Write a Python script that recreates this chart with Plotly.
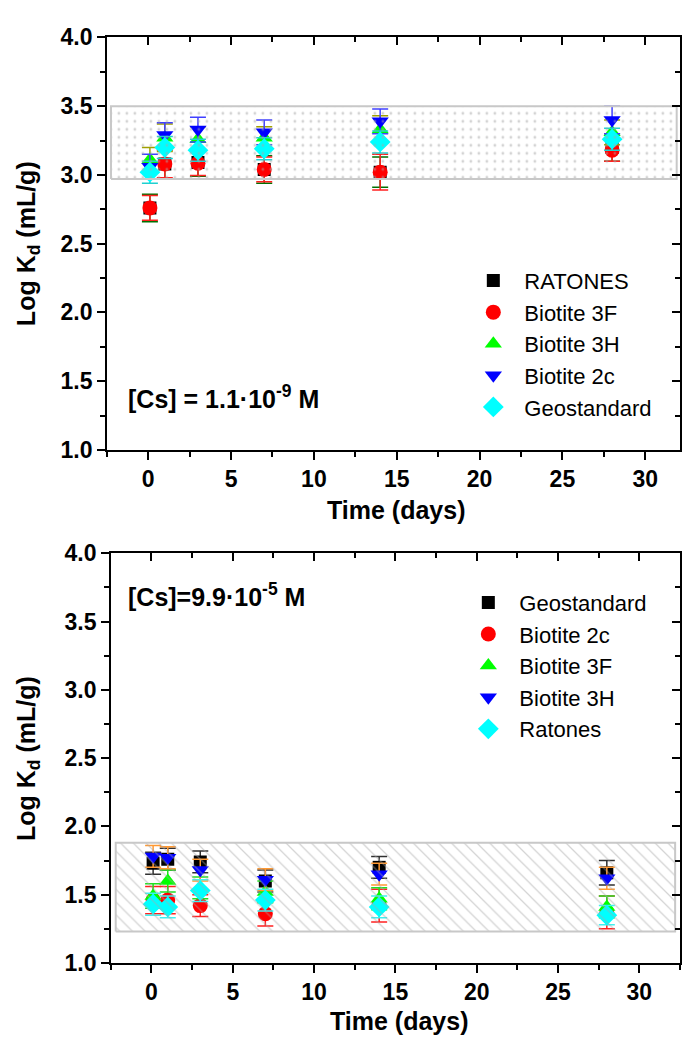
import plotly.graph_objects as go

W, H = 682, 1052

# ---------------- data: top panel ([Cs] = 1.1e-9 M) ----------------
time_top = [0.1, 1, 3, 7, 14, 28]
top_names = ["RATONES", "Biotite 3F", "Biotite 3H", "Biotite 2c", "Geostandard"]
top_ratones = [2.76, 3.08, 3.09, 3.04, 3.02, 3.20]
top_bio3f = [2.76, 3.08, 3.085, 3.04, 3.02, 3.18]
top_bio3h = [3.11, 3.27, 3.26, 3.27, 3.33, 3.31]
top_bio2c = [3.06, 3.29, 3.33, 3.31, 3.39, 3.40]
top_geo = [3.02, 3.20, 3.18, 3.19, 3.24, 3.26]
top_err_ratones = [0.10, 0.11, 0.10, 0.10, 0.11, 0.10]
top_err_bio3f = [0.09, 0.10, 0.09, 0.09, 0.13, 0.08]
top_err_bio3h = [0.09, 0.10, 0.09, 0.08, 0.10, 0.09]
top_err_bio2c = [0.09, 0.09, 0.09, 0.09, 0.09, 0.10]
top_err_geo = [0.08, 0.08, 0.08, 0.08, 0.08, 0.08]
top_band = [2.97, 3.50]

# ---------------- data: bottom panel ([Cs] = 9.9e-5 M) ----------------
time_bot = [0.1, 1, 3, 7, 14, 28]
bot_names = ["Geostandard", "Biotite 2c", "Biotite 3F", "Biotite 3H", "Ratones"]
bot_geo = [1.73, 1.76, 1.74, 1.60, 1.70, 1.66]
bot_bio2c = [1.46, 1.46, 1.42, 1.36, 1.42, 1.37]
bot_bio3f = [1.49, 1.60, 1.55, 1.52, 1.47, 1.41]
bot_bio3h = [1.78, 1.77, 1.68, 1.61, 1.65, 1.62]
bot_ratones = [1.43, 1.41, 1.53, 1.46, 1.41, 1.35]
bot_err_geo = [0.08, 0.08, 0.08, 0.08, 0.08, 0.09]
bot_err_bio2c = [0.10, 0.10, 0.08, 0.09, 0.12, 0.12]
bot_err_bio3f = [0.09, 0.08, 0.08, 0.08, 0.08, 0.08]
bot_err_bio3h = [0.08, 0.08, 0.08, 0.08, 0.08, 0.08]
bot_err_ratones = [0.08, 0.08, 0.08, 0.08, 0.08, 0.07]
bot_band = [1.23, 1.88]

x_ticks = [0, 5, 10, 15, 20, 25, 30]
y_ticks = [1.0, 1.5, 2.0, 2.5, 3.0, 3.5, 4.0]

FONT = "Liberation Sans, Arial, sans-serif"


def px(x):
    return x / W


def py(y):
    return 1 - y / H


fig = go.Figure()

symbols = ["square", "circle", "triangle-up", "triangle-down", "diamond"]
mcolors = ["#000000", "#ff0000", "#00ff00", "#0000ff", "#00ffff"]
msizes = [13, 15, 15, 15, 16]

top_vals = [top_ratones, top_bio3f, top_bio3h, top_bio2c, top_geo]
top_errs = [top_err_ratones, top_err_bio3f, top_err_bio3h, top_err_bio2c, top_err_geo]
top_ecol = ["#007000", "#ff2020", "#a0a000", "#4040ff", "#20d0d0"]

bot_vals = [bot_geo, bot_bio2c, bot_bio3f, bot_bio3h, bot_ratones]
bot_errs = [bot_err_geo, bot_err_bio2c, bot_err_bio3f, bot_err_bio3h, bot_err_ratones]
bot_ecol = ["#303030", "#ff2020", "#20e020", "#ff9933", "#40f0f0"]

for i in range(5):
    fig.add_trace(go.Scatter(
        x=time_top, y=top_vals[i], name=top_names[i], mode="markers",
        xaxis="x", yaxis="y", legend="legend",
        marker=dict(symbol=symbols[i], color=mcolors[i], size=msizes[i], line=dict(width=0)),
        error_y=dict(type="data", array=top_errs[i], color=top_ecol[i], thickness=1.5, width=8),
    ))

for i in range(5):
    fig.add_trace(go.Scatter(
        x=time_bot, y=bot_vals[i], name=bot_names[i], mode="markers",
        xaxis="x2", yaxis="y2", legend="legend2",
        marker=dict(symbol=symbols[i], color=mcolors[i], size=msizes[i], line=dict(width=0)),
        error_y=dict(type="data", array=bot_errs[i], color=bot_ecol[i], thickness=1.5, width=8),
    ))

# patterned bands (drawn over the markers, as in the original)
fig.add_trace(go.Scatter(
    x=[-2.25, 31.9, 31.9, -2.25, -2.25],
    y=[top_band[0], top_band[0], top_band[1], top_band[1], top_band[0]],
    xaxis="x", yaxis="y", mode="lines", fill="toself", showlegend=False, hoverinfo="skip",
    line=dict(color="#c8c8c8", width=2),
    fillcolor="rgba(0,0,0,0)",
    fillpattern=dict(shape=".", fgcolor="#a8a8a8", bgcolor="rgba(0,0,0,0)", size=8, solidity=0.1),
))
fig.add_trace(go.Scatter(
    x=[-2.2, 32.2, 32.2, -2.2, -2.2],
    y=[bot_band[0], bot_band[0], bot_band[1], bot_band[1], bot_band[0]],
    xaxis="x2", yaxis="y2", mode="lines", fill="toself", showlegend=False, hoverinfo="skip",
    line=dict(color="#c8c8c8", width=2),
    fillcolor="rgba(0,0,0,0)",
    fillpattern=dict(shape="\\", fgcolor="#a8a8a8", bgcolor="rgba(0,0,0,0)", size=9, solidity=0.14),
))

# dummy traces to realise the mirrored (inside-tick) axes
for xa, ya in [("x3", "y"), ("x", "y3"), ("x4", "y2"), ("x2", "y4")]:
    fig.add_trace(go.Scatter(x=[None], y=[None], xaxis=xa, yaxis=ya, showlegend=False, hoverinfo="skip"))

tickfont = dict(family=FONT, size=23, color="black", weight="bold")

top_dom_x = [px(107), px(681)]
top_dom_y = [py(448), py(25)]
bot_dom_x = [px(111), px(681)]
bot_dom_y = [py(974), py(554)]
top_xr = [-2.5, 32.1]
bot_xr = [-2.5, 32.5]
yr = [1.0, 4.0]


def xax(dom, rng, anchor):
    return dict(domain=dom, range=rng, anchor=anchor, tickmode="array", tickvals=x_ticks,
                ticktext=[str(v) for v in x_ticks], ticks="outside", ticklen=8, tickwidth=1.5,
                tickcolor="black", showline=True, linecolor="black", linewidth=1.5, mirror=True,
                showgrid=False, zeroline=False, tickfont=tickfont,
                minor=dict(tickvals=[v + 2.5 for v in [-5] + x_ticks], ticks="outside", ticklen=5,
                           tickwidth=1.5, tickcolor="black", showgrid=False))


def yax(dom, anchor):
    return dict(domain=dom, range=yr, anchor=anchor, tickmode="array", tickvals=y_ticks,
                ticktext=["%.1f" % v for v in y_ticks], ticks="outside", ticklen=8, tickwidth=1.5,
                tickcolor="black", showline=True, linecolor="black", linewidth=1.5, mirror=True,
                showgrid=False, zeroline=False, tickfont=tickfont,
                minor=dict(tickvals=[v + 0.25 for v in y_ticks[:-1]], ticks="outside", ticklen=5,
                           tickwidth=1.5, tickcolor="black", showgrid=False))


def xover(over, rng, anchor):
    return dict(overlaying=over, side="top", range=rng, anchor=anchor, tickmode="array",
                tickvals=x_ticks, ticks="inside", ticklen=8, tickwidth=1.5, tickcolor="black",
                showticklabels=False, showline=False, showgrid=False, zeroline=False,
                minor=dict(tickvals=[v + 2.5 for v in [-5] + x_ticks], ticks="inside", ticklen=5,
                           tickwidth=1.5, tickcolor="black", showgrid=False))


def yover(over, anchor):
    return dict(overlaying=over, side="right", range=yr, anchor=anchor, tickmode="array",
                tickvals=y_ticks, ticks="inside", ticklen=8, tickwidth=1.5, tickcolor="black",
                showticklabels=False, showline=False, showgrid=False, zeroline=False,
                minor=dict(tickvals=[v + 0.25 for v in y_ticks[:-1]], ticks="inside", ticklen=5,
                           tickwidth=1.5, tickcolor="black", showgrid=False))


legend_common = dict(font=dict(family=FONT, size=22, color="black"), bgcolor="rgba(0,0,0,0)",
                     borderwidth=0, xanchor="left", yanchor="top", itemwidth=52,
                     tracegroupgap=0, itemclick=False)

annot_font = dict(family=FONT, size=25, color="black", weight="bold")
title_font = dict(family=FONT, size=25, color="black", weight="bold")


def ann(text, x, y, angle=0, xanchor="center", font=title_font):
    return dict(text=text, x=px(x), y=py(y), xref="paper", yref="paper", textangle=angle,
                xanchor=xanchor, yanchor="middle", showarrow=False, font=font)


fig.update_layout(
    width=W, height=H, margin=dict(l=0, r=0, t=0, b=0),
    paper_bgcolor="white", plot_bgcolor="white",
    xaxis=xax(top_dom_x, top_xr, "y"),
    yaxis=yax(top_dom_y, "x"),
    xaxis2=xax(bot_dom_x, bot_xr, "y2"),
    yaxis2=yax(bot_dom_y, "x2"),
    xaxis3=xover("x", top_xr, "y"),
    yaxis3=yover("y", "x"),
    xaxis4=xover("x2", bot_xr, "y2"),
    yaxis4=yover("y2", "x2"),
    legend=dict(x=px(463), y=py(253), **legend_common),
    legend2=dict(x=px(458), y=py(583), **legend_common),
    showlegend=True,
    annotations=[
        ann("<b>Log K<sub>d</sub> (mL/g)</b>", 28, 236, angle=-90),
        ann("<b>Log K<sub>d</sub> (mL/g)</b>", 28, 764, angle=-90),
        ann("<b>Time (days)</b>", 397, 510),
        ann("<b>Time (days)</b>", 400, 1034),
        ann("<b>[Cs] = 1.1·10<sup>-9</sup> M</b>", 126, 394, xanchor="left", font=annot_font),
        ann("<b>[Cs]=9.9·10<sup>-5</sup> M</b>", 126, 597, xanchor="left", font=annot_font),
    ],
)

fig.write_html("out.html")
